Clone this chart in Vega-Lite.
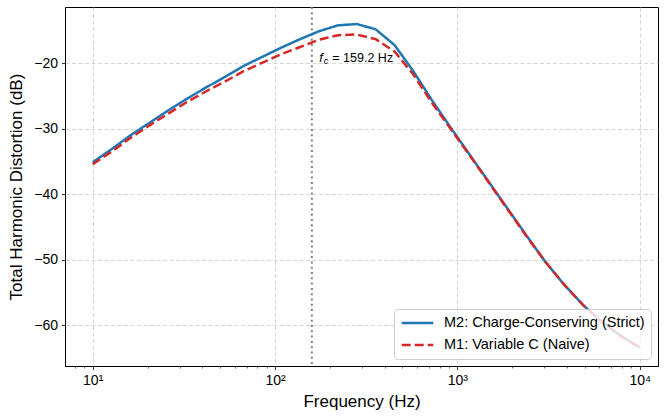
{
  "$schema": "https://vega.github.io/schema/vega-lite/v6.json",
  "width": 593,
  "height": 359,
  "autosize": {"type": "none"},
  "padding": {"left": 65, "top": 7, "right": 6, "bottom": 51},
  "config": {
    "font": "Liberation Sans",
    "view": {"stroke": "#000000", "strokeWidth": 1},
    "axis": {
      "labelFont": "Liberation Sans",
      "titleFont": "Liberation Sans",
      "labelFontSize": 14,
      "titleFontSize": 17,
      "titleFontWeight": "normal",
      "labelColor": "#000000",
      "titleColor": "#000000",
      "tickColor": "#000000",
      "domainColor": "#000000",
      "gridColor": "#cccccc",
      "gridDash": [4, 2.5],
      "gridWidth": 0.8,
      "tickSize": 3.5,
      "tickWidth": 0.8
    },
    "legend": {
      "title": null, "orient": "bottom-right", "offset": 7,
      "symbolType": "stroke", "symbolSize": 1000, "symbolStrokeWidth": 2.5,
      "labelFontSize": 14.5, "labelFont": "Liberation Sans", "labelColor": "#000000", "labelLimit": 400,
      "labelOffset": 9, "clipHeight": 16, "rowPadding": 6, "padding": 6,
      "fillColor": "rgba(255,255,255,0.8)", "strokeColor": "#cccccc", "cornerRadius": 4
    }
  },
  "datasets": {
    "curves": [
      {"freq": 10, "thd": -35.1, "series": "M2: Charge-Conserving (Strict)"},
      {"freq": 12.69, "thd": -33.1, "series": "M2: Charge-Conserving (Strict)"},
      {"freq": 16.10, "thd": -31.0, "series": "M2: Charge-Conserving (Strict)"},
      {"freq": 20.43, "thd": -29.1, "series": "M2: Charge-Conserving (Strict)"},
      {"freq": 25.93, "thd": -27.2, "series": "M2: Charge-Conserving (Strict)"},
      {"freq": 32.90, "thd": -25.4, "series": "M2: Charge-Conserving (Strict)"},
      {"freq": 41.75, "thd": -23.7, "series": "M2: Charge-Conserving (Strict)"},
      {"freq": 52.98, "thd": -22.1, "series": "M2: Charge-Conserving (Strict)"},
      {"freq": 67.23, "thd": -20.4, "series": "M2: Charge-Conserving (Strict)"},
      {"freq": 85.31, "thd": -19.0, "series": "M2: Charge-Conserving (Strict)"},
      {"freq": 108.26, "thd": -17.6, "series": "M2: Charge-Conserving (Strict)"},
      {"freq": 137.38, "thd": -16.3, "series": "M2: Charge-Conserving (Strict)"},
      {"freq": 174.33, "thd": -15.1, "series": "M2: Charge-Conserving (Strict)"},
      {"freq": 221.22, "thd": -14.2, "series": "M2: Charge-Conserving (Strict)"},
      {"freq": 280.72, "thd": -14.0, "series": "M2: Charge-Conserving (Strict)"},
      {"freq": 356.22, "thd": -14.8, "series": "M2: Charge-Conserving (Strict)"},
      {"freq": 452.04, "thd": -17.2, "series": "M2: Charge-Conserving (Strict)"},
      {"freq": 573.63, "thd": -21.2, "series": "M2: Charge-Conserving (Strict)"},
      {"freq": 727.90, "thd": -25.7, "series": "M2: Charge-Conserving (Strict)"},
      {"freq": 923.67, "thd": -29.9, "series": "M2: Charge-Conserving (Strict)"},
      {"freq": 1172.1, "thd": -34.0, "series": "M2: Charge-Conserving (Strict)"},
      {"freq": 1487.4, "thd": -38.1, "series": "M2: Charge-Conserving (Strict)"},
      {"freq": 1887.4, "thd": -42.2, "series": "M2: Charge-Conserving (Strict)"},
      {"freq": 2395.0, "thd": -46.3, "series": "M2: Charge-Conserving (Strict)"},
      {"freq": 3039.2, "thd": -50.3, "series": "M2: Charge-Conserving (Strict)"},
      {"freq": 3856.6, "thd": -53.8, "series": "M2: Charge-Conserving (Strict)"},
      {"freq": 4893.9, "thd": -56.9, "series": "M2: Charge-Conserving (Strict)"},
      {"freq": 6210.2, "thd": -59.5, "series": "M2: Charge-Conserving (Strict)"},
      {"freq": 7880.5, "thd": -61.6, "series": "M2: Charge-Conserving (Strict)"},
      {"freq": 10000, "thd": -63.4, "series": "M2: Charge-Conserving (Strict)"},
      {"freq": 10, "thd": -35.4, "series": "M1: Variable C (Naive)"},
      {"freq": 12.69, "thd": -33.5, "series": "M1: Variable C (Naive)"},
      {"freq": 16.10, "thd": -31.4, "series": "M1: Variable C (Naive)"},
      {"freq": 20.43, "thd": -29.5, "series": "M1: Variable C (Naive)"},
      {"freq": 25.93, "thd": -27.7, "series": "M1: Variable C (Naive)"},
      {"freq": 32.90, "thd": -25.9, "series": "M1: Variable C (Naive)"},
      {"freq": 41.75, "thd": -24.3, "series": "M1: Variable C (Naive)"},
      {"freq": 52.98, "thd": -22.8, "series": "M1: Variable C (Naive)"},
      {"freq": 67.23, "thd": -21.2, "series": "M1: Variable C (Naive)"},
      {"freq": 85.31, "thd": -19.9, "series": "M1: Variable C (Naive)"},
      {"freq": 108.26, "thd": -18.6, "series": "M1: Variable C (Naive)"},
      {"freq": 137.38, "thd": -17.5, "series": "M1: Variable C (Naive)"},
      {"freq": 174.33, "thd": -16.4, "series": "M1: Variable C (Naive)"},
      {"freq": 221.22, "thd": -15.7, "series": "M1: Variable C (Naive)"},
      {"freq": 280.72, "thd": -15.6, "series": "M1: Variable C (Naive)"},
      {"freq": 356.22, "thd": -16.3, "series": "M1: Variable C (Naive)"},
      {"freq": 452.04, "thd": -18.2, "series": "M1: Variable C (Naive)"},
      {"freq": 573.63, "thd": -21.7, "series": "M1: Variable C (Naive)"},
      {"freq": 727.90, "thd": -26.1, "series": "M1: Variable C (Naive)"},
      {"freq": 923.67, "thd": -30.1, "series": "M1: Variable C (Naive)"},
      {"freq": 1172.1, "thd": -34.1, "series": "M1: Variable C (Naive)"},
      {"freq": 1487.4, "thd": -38.2, "series": "M1: Variable C (Naive)"},
      {"freq": 1887.4, "thd": -42.3, "series": "M1: Variable C (Naive)"},
      {"freq": 2395.0, "thd": -46.4, "series": "M1: Variable C (Naive)"},
      {"freq": 3039.2, "thd": -50.3, "series": "M1: Variable C (Naive)"},
      {"freq": 3856.6, "thd": -53.8, "series": "M1: Variable C (Naive)"},
      {"freq": 4893.9, "thd": -56.9, "series": "M1: Variable C (Naive)"},
      {"freq": 6210.2, "thd": -59.5, "series": "M1: Variable C (Naive)"},
      {"freq": 7880.5, "thd": -61.6, "series": "M1: Variable C (Naive)"},
      {"freq": 10000, "thd": -63.4, "series": "M1: Variable C (Naive)"}
    ],
    "cutoff": [{"freq": 159.2}],
    "annot": [{"freq": 175, "thd": -19.2}]
  },
  "resolve": {"axis": {"x": "independent"}},
  "layer": [
    {
      "data": {"name": "cutoff"},
      "mark": {"type": "rule", "color": "#808080", "strokeWidth": 2, "strokeDash": [2, 3.3]},
      "encoding": {
        "x": {
          "field": "freq", "type": "quantitative",
          "scale": {"type": "log", "domain": [7.05, 12600], "nice": false},
          "axis": {
            "orient": "bottom",
            "values": [8, 9, 20, 30, 40, 50, 60, 70, 80, 90, 200, 300, 400, 500, 600, 700, 800, 900, 2000, 3000, 4000, 5000, 6000, 7000, 8000, 9000],
            "labels": false, "grid": false, "domain": false, "tickSize": 2, "tickWidth": 0.6, "title": null
          }
        }
      }
    },
    {
      "data": {"name": "curves"},
      "transform": [{"filter": "datum.series == 'M2: Charge-Conserving (Strict)'"}],
      "mark": {"type": "line", "strokeWidth": 2.5},
      "encoding": {
        "x": {
          "field": "freq", "type": "quantitative",
          "scale": {"type": "log", "domain": [7.05, 12600], "nice": false},
          "axis": {
            "orient": "bottom",
            "values": [10, 100, 1000, 10000],
            "labelExpr": "datum.value == 10 ? '10¹' : datum.value == 100 ? '10²' : datum.value == 1000 ? '10³' : '10⁴'",
            "grid": true,
            "labelPadding": 4,
            "title": "Frequency (Hz)",
            "titlePadding": 6
          }
        },
        "y": {
          "field": "thd", "type": "quantitative",
          "scale": {"domain": [-66.2, -11.4], "nice": false, "zero": false},
          "axis": {"values": [-60, -50, -40, -30, -20], "title": "Total Harmonic Distortion (dB)", "titlePadding": 8, "labelPadding": 4, "grid": true}
        },
        "color": {
          "field": "series", "type": "nominal",
          "scale": {"domain": ["M2: Charge-Conserving (Strict)", "M1: Variable C (Naive)"], "range": ["#1f77b4", "#d62728"]}
        },
        "strokeDash": {
          "field": "series", "type": "nominal",
          "scale": {"domain": ["M2: Charge-Conserving (Strict)", "M1: Variable C (Naive)"], "range": [[1, 0], [9, 4]]}
        }
      }
    },
    {
      "data": {"name": "curves"},
      "transform": [{"filter": "datum.series == 'M1: Variable C (Naive)'"}],
      "mark": {"type": "line", "strokeWidth": 2.5},
      "encoding": {
        "x": {"field": "freq", "type": "quantitative", "scale": {"type": "log", "domain": [7.05, 12600], "nice": false}, "axis": null},
        "y": {"field": "thd", "type": "quantitative"},
        "color": {"field": "series", "type": "nominal"},
        "strokeDash": {"field": "series", "type": "nominal"}
      }
    },
    {
      "data": {"name": "annot"},
      "mark": {"type": "text", "text": "f", "fontStyle": "italic", "fontSize": 13, "align": "left", "baseline": "middle", "color": "#000000"},
      "encoding": {
        "x": {"field": "freq", "type": "quantitative", "scale": {"type": "log", "domain": [7.05, 12600], "nice": false}, "axis": null},
        "y": {"field": "thd", "type": "quantitative"}
      }
    },
    {
      "data": {"name": "annot"},
      "mark": {"type": "text", "text": "c", "fontStyle": "italic", "fontSize": 9, "align": "left", "baseline": "middle", "dx": 4.5, "dy": 3, "color": "#000000"},
      "encoding": {
        "x": {"field": "freq", "type": "quantitative", "scale": {"type": "log", "domain": [7.05, 12600], "nice": false}, "axis": null},
        "y": {"field": "thd", "type": "quantitative"}
      }
    },
    {
      "data": {"name": "annot"},
      "mark": {"type": "text", "text": "= 159.2 Hz", "fontSize": 12.5, "align": "left", "baseline": "middle", "dx": 13, "color": "#000000"},
      "encoding": {
        "x": {"field": "freq", "type": "quantitative", "scale": {"type": "log", "domain": [7.05, 12600], "nice": false}, "axis": null},
        "y": {"field": "thd", "type": "quantitative"}
      }
    }
  ]
}
